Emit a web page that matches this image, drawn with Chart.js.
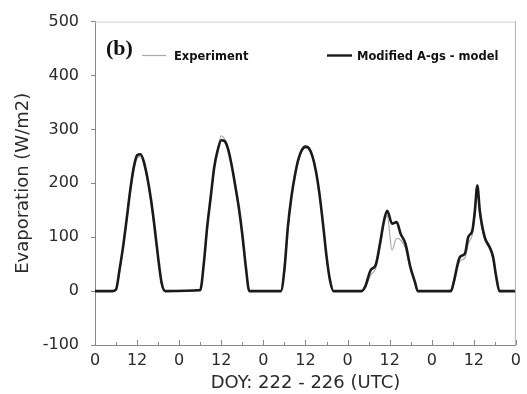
<!DOCTYPE html>
<html>
<head>
<meta charset="utf-8">
<script src="https://cdn.jsdelivr.net/npm/chart.js@4"></script>
<style>
  html, body { margin: 0; padding: 0; background: #fff; }
  #wrap { width: 527px; height: 394px; }
</style>
</head>
<body>
<div id="wrap"><canvas id="evapChart" width="527" height="394"></canvas></div>
<script>
// hours since start of DOY 222 (UTC)
const hours = [
  0, 5, 6, 7, 8, 9, 10, 11, 12, 13, 14, 15, 16, 17, 18, 19, 20,
  30, 31, 32, 33, 34, 35, 36, 37, 38, 39, 40, 41, 42, 43, 44,
  53, 54, 55, 56, 57, 58, 59, 60, 61, 62, 63, 64, 65, 66, 67, 68,
  76, 77, 78.6, 80, 81.4, 82.4, 83.3, 84.7, 86, 87.1, 88.5, 89.9, 91.3, 92,
  101.5, 102.2, 104, 105.5, 106.4, 107.6, 108.3, 109, 109.7, 111.1, 112.5, 113.5, 114.4, 115.3, 120
];
const modelEvap = [
  0, 0, 3, 40, 82, 132, 185, 228, 252, 254, 238, 208, 168, 118, 62, 15, 0,
  2, 50, 120, 175, 230, 262, 280, 278, 262, 232, 195, 155, 105, 45, 0,
  0, 40, 120, 175, 215, 245, 262, 268, 265, 250, 222, 180, 125, 65, 20, 0,
  0, 8, 39, 48, 94, 131, 149, 125, 128, 107, 88, 45, 15, 0,
  0, 15, 63, 70, 100, 113, 149, 196, 149, 100, 82, 63, 26, 0, 0
];
const expEvap = [
  0, 0, 2, 35, 78, 128, 180, 222, 246, 250, 234, 204, 164, 114, 60, 12, 0,
  0, 45, 115, 172, 228, 265, 288, 282, 264, 232, 193, 152, 100, 42, 0,
  0, 35, 115, 172, 212, 243, 260, 265, 262, 248, 220, 178, 122, 62, 18, 0,
  0, 5, 30, 42, 85, 125, 140, 76, 98, 95, 80, 42, 12, 0,
  0, 10, 55, 62, 88, 105, 140, 188, 142, 95, 78, 58, 22, 0, 0
];
const seriesNames = ["Modified A-gs - model", "Experiment"];
const panelLabel = "(b)";
const xTitle = "DOY: 222 - 226 (UTC)";
const yTitle = "Evaporation (W/m2)";

const pts = arr => hours.map((h, i) => ({ x: h, y: arr[i] }));

// legend, panel label, light top/right frame, inward x ticks
const decor = {
  id: "decor",
  afterDraw(chart) {
    const ctx = chart.ctx, a = chart.chartArea, xs = chart.scales.x;
    ctx.save();
    ctx.strokeStyle = "#cfcfcf"; ctx.lineWidth = 1;
    ctx.beginPath(); ctx.moveTo(a.left, a.top + 0.5); ctx.lineTo(a.right, a.top + 0.5); ctx.stroke();
    ctx.strokeStyle = "#b5b5b5";
    ctx.beginPath(); ctx.moveTo(a.right - 0.5, a.top); ctx.lineTo(a.right - 0.5, a.bottom); ctx.stroke();

    ctx.strokeStyle = "#888";
    for (let h = 0; h <= 120; h += 6) {
      const x = Math.round(xs.getPixelForValue(h)) + 0.5;
      const len = h % 12 === 0 ? 5 : 3;
      ctx.beginPath(); ctx.moveTo(x, a.bottom); ctx.lineTo(x, a.bottom - len); ctx.stroke();
    }

    ctx.fillStyle = "#111";
    ctx.font = "bold 22px 'Liberation Serif'";
    ctx.textBaseline = "alphabetic";
    ctx.fillText(panelLabel, 106, 55);

    ctx.font = "bold 11.5px 'DejaVu Sans'";
    ctx.textBaseline = "middle";
    ctx.strokeStyle = "#aaa"; ctx.lineWidth = 1.2;
    ctx.beginPath(); ctx.moveTo(142, 55.5); ctx.lineTo(166, 55.5); ctx.stroke();
    ctx.fillText(seriesNames[1], 174, 57);
    ctx.strokeStyle = "#1a1a1a"; ctx.lineWidth = 2.4;
    ctx.beginPath(); ctx.moveTo(327, 55.5); ctx.lineTo(352, 55.5); ctx.stroke();
    ctx.fillText(seriesNames[0], 357, 57);
    ctx.restore();
  }
};

new Chart(document.getElementById("evapChart"), {
  type: "line",
  data: {
    datasets: [
      { label: seriesNames[0], data: pts(modelEvap), borderColor: "#1a1a1a", borderWidth: 2.6,
        pointRadius: 0, cubicInterpolationMode: "monotone", fill: false },
      { label: seriesNames[1], data: pts(expEvap), borderColor: "#a8a8a8", borderWidth: 1.2,
        pointRadius: 0, cubicInterpolationMode: "monotone", fill: false }
    ]
  },
  options: {
    responsive: false,
    animation: false,
    devicePixelRatio: 1,
    layout: { padding: { top: 20, right: 7, left: 0, bottom: 0 } },
    plugins: { legend: { display: false }, tooltip: { enabled: false } },
    scales: {
      x: {
        type: "linear", min: 0, max: 120,
        afterFit: s => { s.height = 49; },
        border: { display: true, color: "#888", width: 1 },
        grid: { display: false, drawTicks: false },
        ticks: { stepSize: 12, padding: 6, color: "#2a2a2a", font: { family: "DejaVu Sans", size: 16 },
          maxRotation: 0, callback: v => (v % 24 === 0 ? "0" : "12") },
        title: { display: true, text: xTitle, color: "#2a2a2a", padding: 0,
          font: { family: "DejaVu Sans", size: 18 } }
      },
      y: {
        min: -100, max: 500,
        afterFit: s => { s.width = 95; },
        border: { display: true, color: "#888", width: 1 },
        grid: { drawOnChartArea: false, tickLength: 4, color: "#888" },
        ticks: { stepSize: 100, padding: 12, color: "#2a2a2a", font: { family: "DejaVu Sans", size: 16 } },
        title: { display: true, text: yTitle, color: "#2a2a2a", padding: { top: 13, bottom: 0 },
          font: { family: "DejaVu Sans", size: 18 } }
      }
    }
  },
  plugins: [decor]
});
</script>
</body>
</html>
